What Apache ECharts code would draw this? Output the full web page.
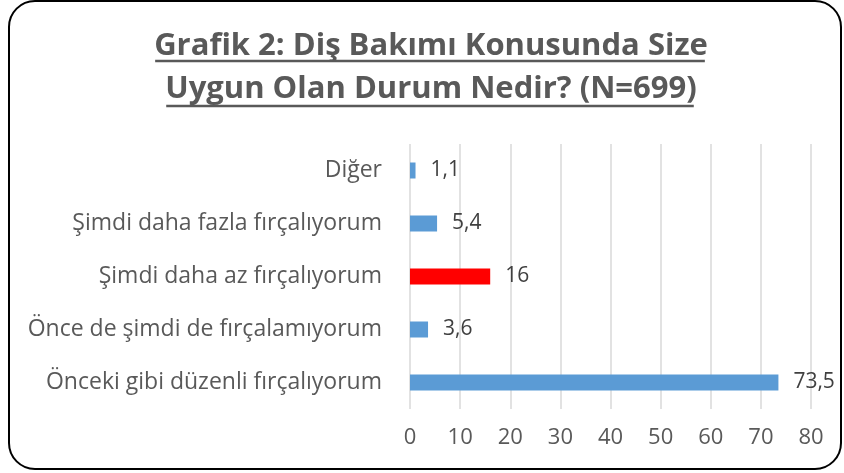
<!DOCTYPE html>
<html lang="tr">
<head>
    <meta charset="UTF-8">
    <title>grafik_2</title>
    <style>
        html, body { margin: 0; padding: 0; background: #fff; }
        #main { width: 844px; height: 473px; }
    </style>
</head>
<body>
    <div id="main"></div>
</body>
<script src="https://cdn.jsdelivr.net/npm/echarts@6/dist/echarts.min.js"></script>
<script>
    var titleLines = ['Grafik 2: Diş Bakımı Konusunda Size', 'Uygun Olan Durum Nedir? (N=699)']
    // bottom to top, as the y axis draws them
    var categories = [
        'Önceki gibi düzenli fırçalıyorum',
        'Önce de şimdi de fırçalamıyorum',
        'Şimdi daha az fırçalıyorum',
        'Şimdi daha fazla fırçalıyorum',
        'Diğer'
    ]
    var values = [73.5, 3.6, 16, 5.4, 1.1]
    var highlight = 'Şimdi daha az fırçalıyorum'
    var xTicks = [0, 10, 20, 30, 40, 50, 60, 70, 80]

    var fontFam = '"Open Sans", sans-serif'
    var titleSize = 31
    var titleFont = 'bold ' + titleSize + 'px ' + fontFam
    var cx = 430

    // underline widths from the real text width
    var ctx = document.createElement('canvas').getContext('2d')
    ctx.font = titleFont
    var underlines = titleLines.map(function (t, i) {
        var w = ctx.measureText(t).width - 4
        var y = i === 0 ? 61 : 106
        return {
            type: 'line',
            shape: { x1: cx - w / 2, y1: y, x2: cx + w / 2, y2: y },
            style: { stroke: '#595959', lineWidth: 2.5 },
            silent: true
        }
    })

    var main = echarts.init(document.getElementById('main'))
    var option = {
        animation: false,
        title: {
            text: titleLines.join('\n'),
            left: cx - 4,
            textAlign: 'center',
            top: 20,
            textStyle: {
                fontFamily: fontFam,
                fontWeight: 'bold',
                fontSize: titleSize,
                lineHeight: 43,
                color: '#595959'
            }
        },
        graphic: [
            {
                type: 'rect',
                shape: { x: 9, y: 1, width: 832, height: 468, r: 26 },
                style: { fill: 'none', stroke: '#000', lineWidth: 2 },
                silent: true
            }
        ].concat(underlines),
        grid: {
            left: 410,
            right: 33,
            top: 144,
            bottom: 64,
            containLabel: false,
            outerBoundsMode: 'none'
        },
        xAxis: {
            type: 'value',
            min: xTicks[0],
            max: xTicks[xTicks.length - 1],
            interval: 10,
            axisLine: { show: false },
            axisTick: { show: false },
            splitLine: { lineStyle: { color: '#d9d9d9', width: 1.5 } },
            axisLabel: {
                color: '#595959',
                fontFamily: fontFam,
                fontSize: 22,
                margin: 18
            }
        },
        yAxis: {
            type: 'category',
            data: categories,
            axisLine: { show: false },
            axisTick: { show: false },
            axisLabel: {
                color: '#595959',
                fontFamily: fontFam,
                fontSize: 23,
                margin: 28
            }
        },
        series: [
            {
                type: 'bar',
                barWidth: 16,
                data: values.map(function (v, i) {
                    return {
                        value: v,
                        itemStyle: { color: categories[i] === highlight ? '#ff0000' : '#5b9bd5' }
                    }
                }),
                label: {
                    show: true,
                    position: 'right',
                    distance: 15,
                    color: '#404040',
                    fontFamily: fontFam,
                    fontSize: 21,
                    formatter: function (p) {
                        return String(p.value).replace('.', ',')
                    }
                }
            }
        ]
    }
    main.setOption(option)
</script>
</html>
